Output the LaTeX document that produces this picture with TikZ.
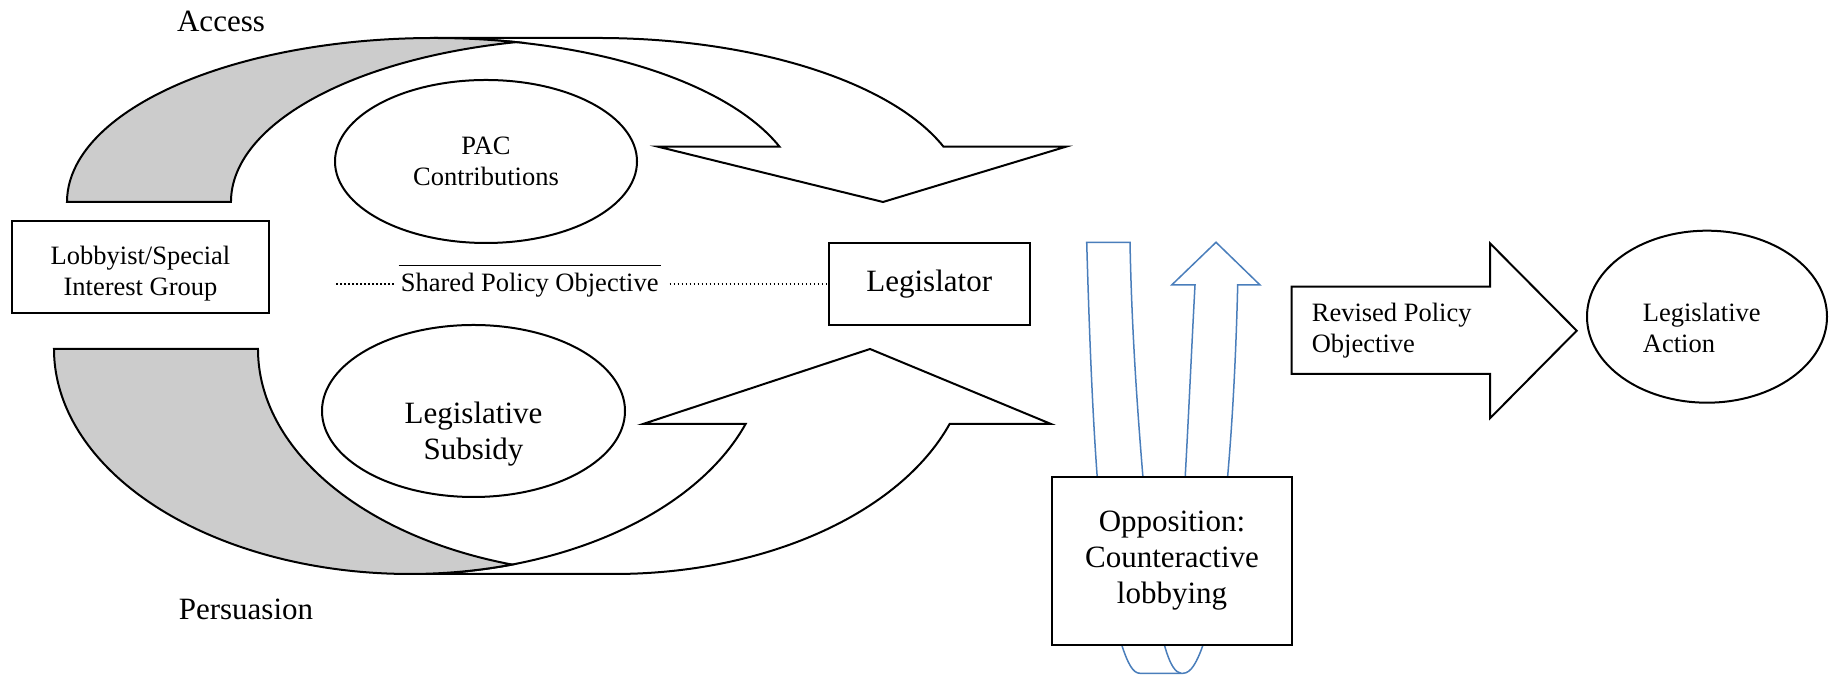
\documentclass[tikz,border=0pt]{standalone}
\usepackage{fontspec}
\setmainfont{Liberation Serif}
\usepackage{tikz}
\usetikzlibrary{shapes.geometric}
\definecolor{tailgray}{RGB}{204,204,204}
\definecolor{uturnblue}{RGB}{74,126,187}
\newcommand{\bigsize}{\fontsize{12.4pt}{14.4pt}\selectfont}
\newcommand{\smallsize}{\fontsize{10.6pt}{12.4pt}\selectfont}
\tikzset{
    outline/.style={draw=black, line width=0.8pt, line join=miter},
    box/.style={outline, rectangle, fill=white, inner sep=0pt},
    oval/.style={outline, ellipse, fill=white, inner sep=0pt},
    bigtext/.style={font=\bigsize, align=center, inner sep=0pt},
    smalltext/.style={font=\smallsize, align=center, inner sep=0pt},
    body/.style={outline, fill=white},
    tail/.style={outline, fill=tailgray},
    uturn/.style={draw=uturnblue, line width=0.6pt, fill=white},
    objline/.style={densely dotted, line width=0.6pt}
}

\begin{document}
\begin{tikzpicture}[x=0.4pt, y=0.4pt]
    \useasboundingbox (0,0) rectangle (1833,678);

    \draw[body] (779.5,531.3) arc[start angle=19.71, end angle=90, x radius=367, y radius=164]
        -- (598,640) arc[start angle=90, end angle=19.71, x radius=367, y radius=164]
        -- (1066,531.3) -- (883,476) -- (658,531.3) -- cycle;
    \draw[tail] (67,476) arc[start angle=180, end angle=77.09, x radius=367, y radius=164]
        arc[start angle=102.91, end angle=180, x radius=367, y radius=164] -- cycle;

    \draw[body] (745.6,254) arc[start angle=-19.47, end angle=-90, x radius=356, y radius=225]
        -- (614,104) arc[start angle=-90, end angle=-19.47, x radius=356, y radius=225]
        -- (1051,254) -- (870,329) -- (643,254) -- cycle;
    \draw[tail] (54,329) arc[start angle=180, end angle=286.65, x radius=356, y radius=225]
        arc[start angle=253.35, end angle=180, x radius=356, y radius=225] -- cycle;

    \node[bigtext, anchor=base] (access) at (221,646.3) {Access};
    \node[bigtext, anchor=base] (persuasion) at (246,58) {Persuasion};

    \node[box, minimum width=103pt, minimum height=36.8pt] (lobbyist) at (140.5,411.3) {};
    \node[smalltext] (lobbyist-text) at ([yshift=-2.6pt]lobbyist.center) {Lobbyist/Special\\Interest Group};

    \node[oval, smalltext, minimum width=120.8pt, minimum height=65.2pt] (pac) at (486,516.5) {PAC\\Contributions};
    \node[oval, minimum width=121.2pt, minimum height=68.8pt] (subsidy) at (473.5,267) {};
    \node[bigtext] (subsidy-text) at ([yshift=-9.2pt]subsidy.center) {Legislative\\Subsidy};

    \node[box, bigtext, minimum width=80.4pt, minimum height=32.7pt] (legislator) at (929.2,393.9) {Legislator};
    \node[smalltext, inner xsep=0.7pt, anchor=base] (shared) at (529.7,386.3) {Shared Policy Objective};
    \draw[line width=0.6pt] ([yshift=10.4pt]shared.base west) -- ([yshift=10.4pt]shared.base east);
    \coordinate (dotstart) at (336,393.9);
    \draw[objline, shorten >=2pt] (dotstart) -- (dotstart -| shared.west);
    \draw[objline, shorten <=3.6pt] (legislator.west -| shared.east) -- (legislator.west);

    \draw[uturn] (1086.7,435.7) -- (1130,435.7)
        .. controls (1132,330) and (1140,230) .. (1150,120)
        -- (1180,120)
        .. controls (1186,200) and (1190,300) .. (1195,393)
        -- (1171.7,393) -- (1216,435.7) -- (1260,393) -- (1237.7,393)
        .. controls (1234,240) and (1222,110) .. (1203,33)
        .. controls (1197,16) and (1191,4.7) .. (1183,4.7)
        -- (1140,4.7)
        .. controls (1133,4.7) and (1128,14) .. (1121.7,33)
        .. controls (1100,100) and (1092,250) .. (1086.7,435.7) -- cycle;
    \draw[uturn, fill=none] (1155,80) .. controls (1162,35) and (1170,6) .. (1181,4.7);
    \node[box, bigtext, minimum width=96pt, minimum height=67.2pt] (opposition) at (1172,117) {Opposition:\\Counteractive\\lobbying};

    \draw[body] (1291.7,391.3) -- (1490,391.3) -- (1490,434.7) -- (1576.7,347.3)
        -- (1490,259.7) -- (1490,304) -- (1291.7,304) -- cycle;
    \node[smalltext, align=left] (revised-text) at (1391.7,347.4) {Revised Policy\\Objective};

    \node[oval, minimum width=96pt, minimum height=68.8pt] (action) at (1707,361.3) {};
    \node[smalltext, align=left] (action-text) at ([xshift=-2.1pt, yshift=-4.6pt]action.center) {Legislative\\Action};
\end{tikzpicture}
\end{document}
